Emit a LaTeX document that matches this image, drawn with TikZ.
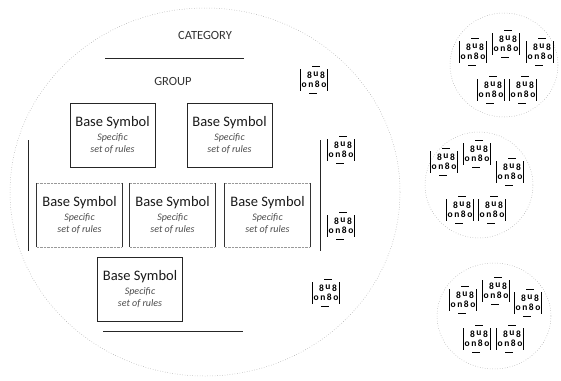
\documentclass[tikz,border=0pt]{standalone}
\usepackage{fontspec}
\setmainfont{Carlito}
\newcommand\rulesfont{\fontsize{10}{12}\selectfont\itshape\color{black!70}}
\newcommand\bstext{Base Symbol\\[-1pt]{\rulesfont Specific}\\[-3pt]{\rulesfont set of rules}}
\begin{document}
\begin{tikzpicture}[x=1pt,y=-1pt,
  bsbox/.style={draw=black!85,line width=1pt,minimum width=85pt,minimum height=64pt,inner sep=0pt,align=center,font=\fontsize{14.5}{15}\selectfont,text=black!90},
  midbox/.style={minimum width=85pt,minimum height=64pt,inner sep=0pt,align=center,font=\fontsize{14.5}{15}\selectfont,text=black!90},
  hline/.style={draw=black!85,line width=1pt},
  dotcirc/.style={draw=black!40,dotted,line width=0.5pt},
  clustxt/.style={font=\fontsize{9.5}{8}\selectfont\bfseries,inner xsep=1pt,inner ysep=1.5pt,align=center},
  pics/clus/.style={code={
    \node[clustxt] (-t) {\hspace{4pt}8\,\raisebox{2pt}{u}\,8\\[1pt]o\,n\,8\,o};
    \draw[line width=1pt] ([yshift=1pt]-t.north west) -- ([yshift=-1pt]-t.south west);
    \draw[line width=1pt] ([yshift=1pt]-t.north east) -- ([yshift=-1pt]-t.south east);
    \draw[line width=0.8pt] ([xshift=-2pt,yshift=4pt]-t.north) -- ([xshift=6pt,yshift=4pt]-t.north);
    \draw[line width=0.8pt] ([xshift=-5pt,yshift=-4pt]-t.south) -- ([xshift=3pt,yshift=-4pt]-t.south);
  }}]
\useasboundingbox (0,0) rectangle (561,380);
% big circle
\draw[dotcirc] (205,192) ellipse [x radius=195, y radius=184];
% category / group
\node[font=\fontsize{12.5}{14}\selectfont,text=black!80] (cat) at (205,35) {CATEGORY};
\coordinate (l1a) at (105,58); \coordinate (l1b) at (244,58);
\draw[hline] (l1a) -- (l1b);
\node[font=\fontsize{12.5}{14}\selectfont,text=black!80] (grp) at (173,81) {GROUP};
% top boxes
\node[bsbox] (b1) at (112.5,135) {\bstext};
\node[bsbox] (b2) at (229.5,135) {\bstext};
% middle row
\node[midbox] (m1) at (79.5,215) {\bstext};
\node[midbox] (m2) at (172.5,215) {\bstext};
\node[midbox] (m3) at (267.5,215) {\bstext};
\foreach \m in {m1,m2,m3}{
  \draw[draw=black!40,densely dotted] (\m.north west) -- (\m.north east);
  \draw[draw=black!40,densely dotted] (\m.south west) -- (\m.south east);
  \draw[draw=black!80,line width=0.9pt] (\m.north west) -- (\m.south west);
  \draw[draw=black!80,line width=0.9pt] (\m.north east) -- (\m.south east);
}
% side lines
\coordinate (vl1) at (28,140); \coordinate (vl2) at (28,251);
\coordinate (vr1) at (320,140); \coordinate (vr2) at (320,251);
\draw[hline] (vl1) -- (vl2);
\draw[hline] (vr1) -- (vr2);
% bottom box
\node[bsbox] (b3) at (140,289) {\bstext};
\coordinate (l2a) at (103,331); \coordinate (l2b) at (243,331);
\draw[hline] (l2a) -- (l2b);
% right column clusters
\pic (c1) at (314,80) {clus};
\pic (c2) at (341,150) {clus};
\pic (c3) at (341,226) {clus};
\pic (c4) at (326,293) {clus};
% small circles
\draw[dotcirc] (504,65) ellipse [x radius=54, y radius=52];
\pic (d1) at (473,52) {clus};
\pic (d2) at (506,44) {clus};
\pic (d3) at (540,52) {clus};
\pic (d4) at (491,90) {clus};
\pic (d5) at (523,90) {clus};
\draw[dotcirc] (479,185) ellipse [x radius=54, y radius=53];
\pic (e1) at (444,162) {clus};
\pic (e2) at (477,154) {clus};
\pic (e3) at (510,172) {clus};
\pic (e4) at (460,210) {clus};
\pic (e5) at (492,210) {clus};
\draw[dotcirc] (494,316) ellipse [x radius=57, y radius=53];
\pic (f1) at (463,300) {clus};
\pic (f2) at (496,291) {clus};
\pic (f3) at (528,303) {clus};
\pic (f4) at (477,339) {clus};
\pic (f5) at (510,339) {clus};
\end{tikzpicture}
\end{document}
